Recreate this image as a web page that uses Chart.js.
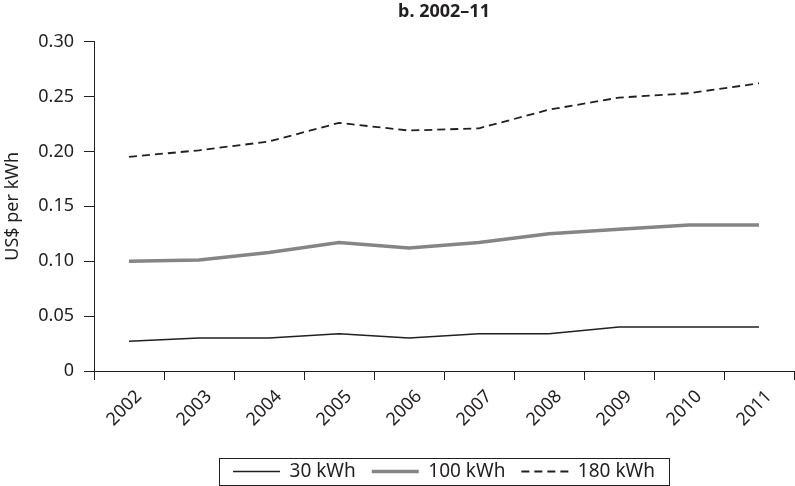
<!DOCTYPE html>
<html>
<head>
<meta charset="utf-8">
<script src="https://cdn.jsdelivr.net/npm/chart.js@4/dist/chart.umd.min.js"></script>
<style>
  html, body { margin: 0; padding: 0; background: #fff; }
  #wrap { width: 795px; height: 486px; }
</style>
</head>
<body>
<div id="wrap"><canvas id="tariffChart"></canvas></div>
<script>
const years = ['2002', '2003', '2004', '2005', '2006', '2007', '2008', '2009', '2010', '2011'];
const kwh30 = [0.027, 0.030, 0.030, 0.034, 0.030, 0.034, 0.034, 0.040, 0.040, 0.040];
const kwh100 = [0.100, 0.101, 0.108, 0.117, 0.112, 0.117, 0.125, 0.129, 0.133, 0.133];
const kwh180 = [0.195, 0.201, 0.209, 0.226, 0.219, 0.221, 0.238, 0.249, 0.253, 0.262];

const ink = '#231f20';
const fontFamily = "'Noto Sans', 'Open Sans', sans-serif";

// centre the legend under the plot area and put a box round it
const legendFrame = {
  id: 'legendFrame',
  afterLayout(chart) {
    const lg = chart.legend;
    const area = chart.chartArea;
    lg.left = area.left;
    lg.right = area.right;
    lg.width = area.right - area.left;
  },
  afterDraw(chart) {
    const boxes = chart.legend.legendHitBoxes;
    if (!boxes || !boxes.length) return;
    const first = boxes[0];
    const last = boxes[boxes.length - 1];
    const ctx = chart.ctx;
    const x0 = first.left - 14;
    const x1 = last.left + last.width + 14;
    const y0 = first.top - 4;
    const y1 = first.top + first.height + 4;
    ctx.save();
    ctx.strokeStyle = ink;
    ctx.lineWidth = 1;
    ctx.setLineDash([]);
    ctx.strokeRect(Math.round(x0) + 0.5, Math.round(y0) + 0.5, Math.round(x1 - x0), Math.round(y1 - y0));
    ctx.restore();
  }
};

const ctx = document.getElementById('tariffChart').getContext('2d');

new Chart(ctx, {
  type: 'line',
  data: {
    labels: years,
    datasets: [{
      label: '30 kWh',
      data: kwh30,
      borderColor: ink,
      borderWidth: 1.5,
      pointRadius: 0,
      tension: 0,
      fill: false
    },
    {
      label: '100 kWh',
      data: kwh100,
      borderColor: '#858585',
      borderWidth: 3.5,
      pointRadius: 0,
      tension: 0,
      fill: false
    },
    {
      label: '180 kWh',
      data: kwh180,
      borderColor: ink,
      borderWidth: 1.8,
      borderDash: [8, 5],
      pointRadius: 0,
      tension: 0,
      fill: false
    }]
  },
  options: {
    responsive: true,
    maintainAspectRatio: false,
    animation: false,
    layout: {
      padding: { left: 2, right: 1, top: 0, bottom: -5 }
    },
    plugins: {
      title: {
        display: true,
        fullSize: false,
        text: 'b. 2002–11',
        color: ink,
        font: { family: fontFamily, size: 18, weight: 'bold' },
        padding: { top: 1, bottom: 19 }
      },
      legend: {
        position: 'bottom',
        labels: {
          color: ink,
          font: { family: fontFamily, size: 19 },
          usePointStyle: true,
          pointStyle: 'line',
          pointStyleWidth: 47,
          padding: 16,
          generateLabels(chart) {
            return chart.data.datasets.map((ds, i) => ({
              text: ds.label,
              datasetIndex: i,
              strokeStyle: ds.borderColor,
              fillStyle: ds.borderColor,
              lineWidth: ds.borderWidth,
              lineDash: ds.borderDash || [],
              pointStyle: 'line',
              fontColor: ink,
              hidden: false
            }));
          }
        }
      },
      tooltip: { enabled: false }
    },
    scales: {
      x: {
        offset: true,
        afterFit(scale) { scale.height = 75; },
        grid: {
          offset: true,
          drawOnChartArea: false,
          drawTicks: true,
          tickLength: 9,
          color: ink
        },
        border: { display: true, color: ink, width: 1 },
        ticks: {
          color: ink,
          font: { family: fontFamily, size: 18 },
          maxRotation: 45,
          minRotation: 45,
          autoSkip: false,
          labelOffset: 10,
          padding: 6
        }
      },
      y: {
        min: 0,
        max: 0.30,
        afterFit(scale) { scale.width = 92; },
        grid: {
          drawOnChartArea: false,
          drawTicks: true,
          tickLength: 10,
          color: ink
        },
        border: { display: true, color: ink, width: 1 },
        ticks: {
          stepSize: 0.05,
          color: ink,
          font: { family: fontFamily, size: 18 },
          padding: 10,
          callback: function (value) {
            return value === 0 ? '0' : value.toFixed(2);
          }
        },
        title: {
          display: true,
          text: 'US$ per kWh',
          color: ink,
          font: { family: fontFamily, size: 18 },
          padding: { top: 0, bottom: 6 }
        }
      }
    }
  },
  plugins: [legendFrame]
});
</script>
</body>
</html>
